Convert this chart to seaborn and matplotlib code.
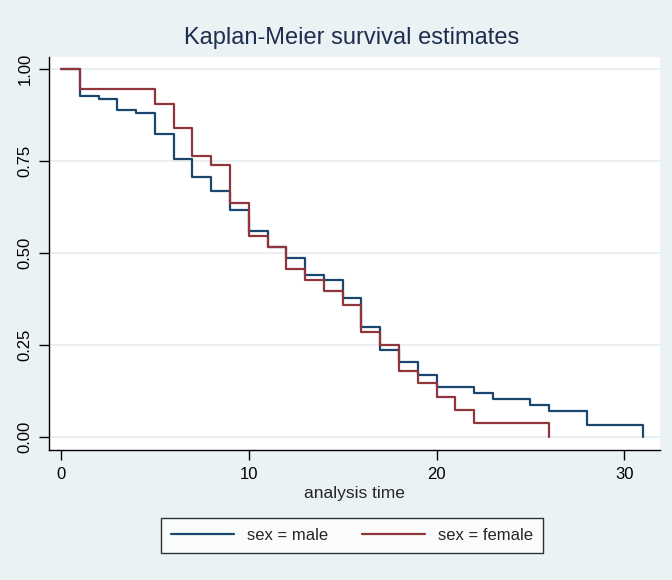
import pandas as pd
import matplotlib
matplotlib.use("Agg")
import matplotlib.pyplot as plt
import seaborn as sns

# Kaplan-Meier step values
male_time = [0, 1, 2, 3, 4, 5, 6, 7, 8, 9, 10, 11, 12, 13, 14, 15, 16, 17, 18, 19,
             20, 22, 23, 25, 26, 28, 31]
male_surv = [1.0, 0.927, 0.920, 0.890, 0.880, 0.825, 0.755, 0.706, 0.668, 0.617,
             0.561, 0.516, 0.488, 0.441, 0.426, 0.379, 0.300, 0.237, 0.203, 0.170,
             0.136, 0.120, 0.103, 0.086, 0.070, 0.034, 0.0]
female_time = [0, 1, 5, 6, 7, 8, 9, 10, 11, 12, 13, 14, 15, 16, 17, 18, 19, 20,
               21, 22, 26]
female_surv = [1.0, 0.945, 0.904, 0.839, 0.764, 0.739, 0.635, 0.546, 0.516, 0.457,
               0.427, 0.398, 0.360, 0.287, 0.251, 0.179, 0.146, 0.110, 0.073, 0.039,
               0.0]
groups = ["sex = male", "sex = female"]
colors = ["#1A476F", "#90353B"]
y_ticks = [0.0, 0.25, 0.5, 0.75, 1.0]
y_labels = ["0.00", "0.25", "0.50", "0.75", "1.00"]
x_ticks = [0, 10, 20, 30]

df = pd.concat([
    pd.DataFrame({"time": male_time, "surv": male_surv, "sex": groups[0]}),
    pd.DataFrame({"time": female_time, "surv": female_surv, "sex": groups[1]}),
])

sns.set_style("white")
plt.rcParams["font.family"] = ["Liberation Sans", "DejaVu Sans"]

bg = "#EAF2F3"
fig = plt.figure(figsize=(6.72, 5.8), dpi=100, facecolor=bg)
ax = fig.add_axes([49 / 672, 1 - 450 / 580, (660 - 49) / 672, (450 - 57) / 580])
ax.set_facecolor("white")

sns.lineplot(data=df, x="time", y="surv", hue="sex", hue_order=groups,
             palette=colors, drawstyle="steps-post", estimator=None, sort=False,
             linewidth=1.6, ax=ax, legend=False)

ax.set_xlim(-0.64, 31.9)
ax.set_ylim(-0.035, 1.033)
ax.set_yticks(y_ticks)
ax.set_yticklabels(y_labels, rotation=90, va="center", fontsize=12)
ax.set_xticks(x_ticks)
ax.set_xticklabels([str(t) for t in x_ticks], fontsize=12)
ax.tick_params(axis="both", direction="out", length=7, width=1, color="black",
               labelcolor="black", pad=5, left=True, bottom=True)
ax.grid(axis="y", color="#E6EEF0", linewidth=1.2)
ax.set_axisbelow(True)
for s in ["top", "right"]:
    ax.spines[s].set_visible(False)
for s in ["left", "bottom"]:
    ax.spines[s].set_color("black")
    ax.spines[s].set_linewidth(1)

ax.set_xlabel("analysis time", fontsize=12.5, labelpad=3)
ax.set_ylabel("")
fig.text(352 / 672, 1 - 38 / 580, "Kaplan-Meier survival estimates",
         ha="center", va="center", fontsize=17, color="#1E2D50")

handles = [plt.Line2D([], [], color=c, linewidth=1.6) for c in colors]
leg = fig.legend(handles, groups, loc="center", ncol=2,
                 bbox_to_anchor=(352 / 672, 1 - 535 / 580), fontsize=12,
                 frameon=True, fancybox=False, edgecolor="black",
                 handlelength=3.8, columnspacing=2.0, borderpad=0.6)
leg.get_frame().set_linewidth(1)
leg.get_frame().set_facecolor("white")

fig.savefig("out.png", dpi=100, facecolor=bg)
